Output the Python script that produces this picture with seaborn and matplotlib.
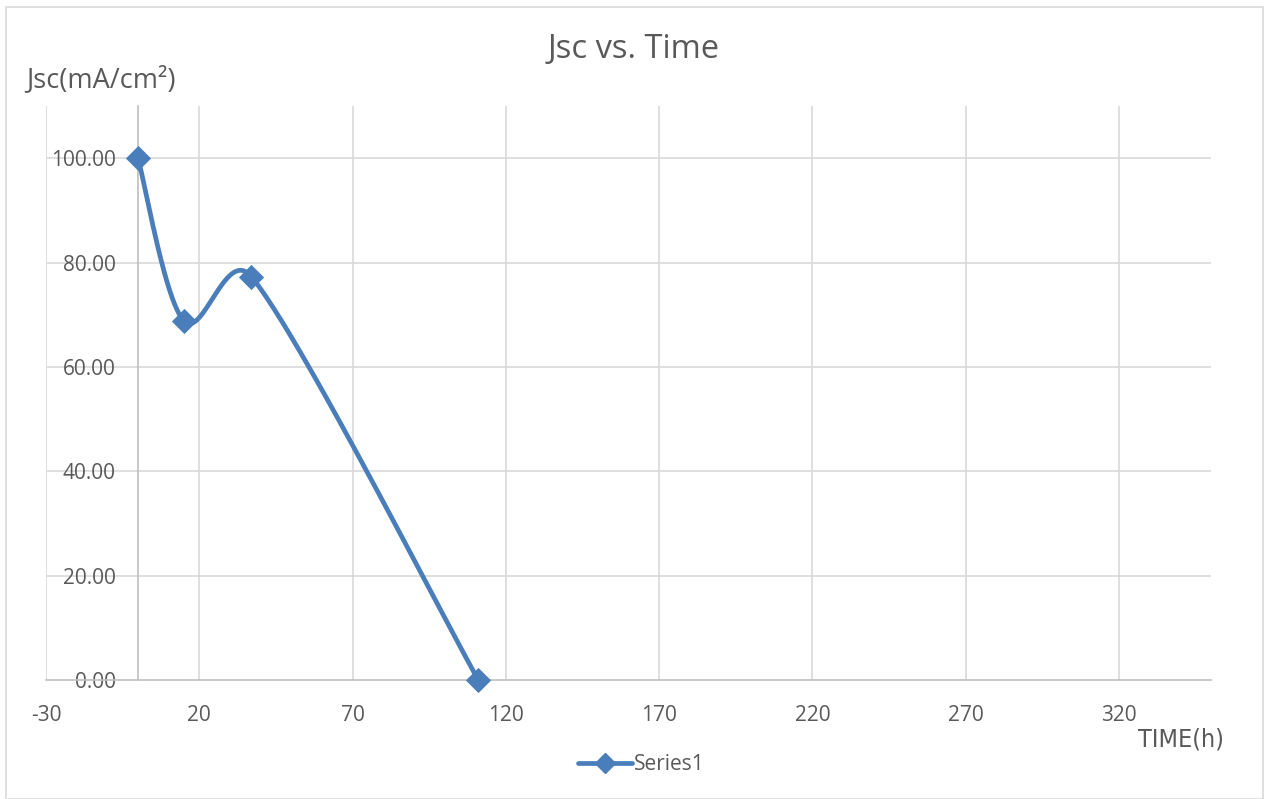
import numpy as np
import pandas as pd
import matplotlib
matplotlib.use("Agg")
import matplotlib.pyplot as plt
from matplotlib.lines import Line2D
from matplotlib.patches import Rectangle
import seaborn as sns

# ---- data ----
time_h = [0, 15, 37, 111]
jsc = [100.0, 68.8, 77.3, 0.0]
x_ticks = [-30, 20, 70, 120, 170, 220, 270, 320]
y_ticks = [0, 20, 40, 60, 80, 100]
series_name = "Series1"

sns.set_theme(style="white")
plt.rcParams['font.family'] = ['Open Sans', 'DejaVu Sans']

W, H = 1268, 799
fig = plt.figure(figsize=(W / 100, H / 100), dpi=100)
ax_l, ax_r, ax_t, ax_b = 46, 1211, 106, 680
ax = fig.add_axes([ax_l / W, 1 - ax_b / H, (ax_r - ax_l) / W, (ax_b - ax_t) / H])

xlim = (-30, 350)
ylim = (0, 110)
ax.set_xlim(*xlim)
ax.set_ylim(*ylim)

# Excel-like smoothed curve (Bezier, control arms clamped to half segment)
sx = (ax_r - ax_l) / (xlim[1] - xlim[0])
sy = (ax_b - ax_t) / (ylim[1] - ylim[0])
P = np.column_stack([np.array(time_h) * sx, np.array(jsc) * sy])
n = len(P)


def tangent(i):
    a = P[i - 1] if i > 0 else P[i]
    b = P[i + 1] if i + 1 < n else P[i]
    return b - a


curve = []
t = np.linspace(0, 1, 80)
for i in range(n - 1):
    p1, p2 = P[i], P[i + 1]
    seg_len = np.linalg.norm(p2 - p1)
    t1, t2 = tangent(i), tangent(i + 1)
    d1 = min(np.linalg.norm(t1) / 6, seg_len / 2)
    d2 = min(np.linalg.norm(t2) / 6, seg_len / 2)
    c1 = p1 + t1 / np.linalg.norm(t1) * d1
    c2 = p2 - t2 / np.linalg.norm(t2) * d2
    seg = ((1 - t) ** 3)[:, None] * p1 + (3 * (1 - t) ** 2 * t)[:, None] * c1 \
        + (3 * (1 - t) * t ** 2)[:, None] * c2 + (t ** 3)[:, None] * p2
    curve.append(seg if i == 0 else seg[1:])
curve = np.vstack(curve)
smooth = pd.DataFrame({"x": curve[:, 0] / sx, "y": curve[:, 1] / sy})
pts = pd.DataFrame({"x": time_h, "y": jsc})

blue = "#4A7EBB"
sns.lineplot(data=smooth, x="x", y="y", sort=False, color=blue, linewidth=3.4,
             ax=ax, zorder=3, solid_capstyle="round")
sns.scatterplot(data=pts, x="x", y="y", marker="D", s=165, color=blue,
                edgecolor=blue, linewidth=0, ax=ax, zorder=4, clip_on=False)

# grid / axes
grid_c = "#D9D9D9"
for xv in x_ticks:
    ax.axvline(xv, color=grid_c, lw=1.2, zorder=0)
for yv in y_ticks[1:]:
    ax.axhline(yv, color=grid_c, lw=1.2, zorder=0)

for s in ["top", "right"]:
    ax.spines[s].set_visible(False)
ax.spines["left"].set_position(("data", 0))
ax.spines["left"].set_color("#BFBFBF")
ax.spines["left"].set_linewidth(1.2)
ax.spines["bottom"].set_color("#BFBFBF")
ax.spines["bottom"].set_linewidth(1.2)
ax.spines["left"].set_zorder(1)

ax.set_xticks(x_ticks)
ax.set_yticks(y_ticks)
ax.set_xticklabels([str(v) for v in x_ticks])
ax.set_yticklabels([f"{v:.2f}" for v in y_ticks])
ax.tick_params(axis="both", length=0, labelsize=15, labelcolor="#595959")
ax.tick_params(axis="y", pad=16)
ax.tick_params(axis="x", pad=18)
ax.set_xlabel("")
ax.set_ylabel("")
ax.set_facecolor("white")

# texts
fig.text(634 / W, 1 - 50 / H, "Jsc vs. Time", ha="center", va="center",
         fontsize=23.5, color="#595959")
fig.text(26 / W, 1 - 80 / H, "Jsc(mA/cm²)", ha="left", va="center",
         fontsize=19.5, color="#595959")
fig.text(1181 / W, 1 - 740 / H, "TIME(h)", ha="center", va="center",
         fontsize=18, color="#595959",
         family=['Liberation Sans Narrow', 'DejaVu Sans Condensed', 'DejaVu Sans'],
         fontstretch="condensed")

handle = Line2D([], [], color=blue, lw=3.4, marker="D", markersize=10)
fig.legend(handles=[handle], labels=[series_name], loc="center",
           bbox_to_anchor=(641 / W, 1 - 765 / H), frameon=False,
           fontsize=15, labelcolor="#595959", handlelength=2.6,
           handletextpad=0.1)

fig.patches.append(Rectangle((6 / W, 0), (1263 - 6) / W, 1 - 7 / H,
                             transform=fig.transFigure, fill=False,
                             edgecolor="#D9D9D9", lw=1.2))

fig.savefig("out.png", dpi=100)
